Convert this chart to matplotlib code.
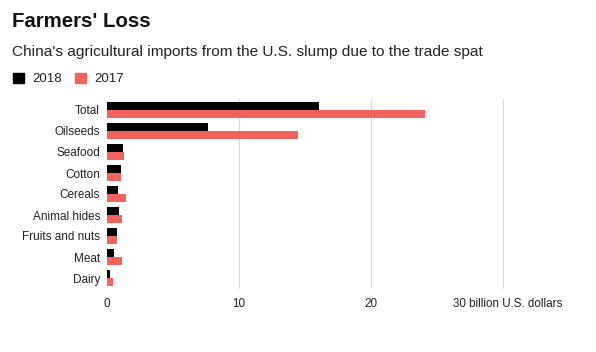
import matplotlib
matplotlib.use("Agg")
import matplotlib.pyplot as plt
import numpy as np
from matplotlib.patches import Rectangle
from matplotlib.transforms import ScaledTranslation

plt.rcParams['font.family'] = ['Liberation Sans', 'DejaVu Sans']

categories = ["Total", "Oilseeds", "Seafood", "Cotton", "Cereals",
              "Animal hides", "Fruits and nuts", "Meat", "Dairy"]
imports_2018 = [16.1, 7.65, 1.2, 1.05, 0.87, 0.88, 0.77, 0.5, 0.25]
imports_2017 = [24.1, 14.45, 1.32, 1.06, 1.47, 1.16, 0.79, 1.1, 0.42]
xticks = [0, 10, 20, 30]
xtick_labels = ["0", "10", "20", "30 billion U.S. dollars"]

black = "#000000"
red = "#f4625f"
grid = "#d9d9d9"
txt = "#222222"

fig = plt.figure(figsize=(5.96, 3.52), dpi=100)
ax = fig.add_axes([107 / 596, (352 - 288.5) / 352, 475 / 596, 189 / 352])

y = np.arange(len(categories))
h = 0.40
ax.barh(y - h / 2, imports_2018, height=h, color=black, zorder=3)
ax.barh(y + h / 2, imports_2017, height=h, color=red, zorder=3)

ax.set_xlim(0, 36)
ax.set_ylim(len(categories) - 0.5, -0.5)
ax.set_xticks(xticks)
ax.set_xticklabels(xtick_labels, fontsize=8.4, color=txt)
ax.set_yticks(y)
ax.set_yticklabels(categories, fontsize=8.5, color=txt)
ax.tick_params(length=0)
ax.tick_params(axis="y", pad=5)
ax.tick_params(axis="x", pad=7)
# long last label sits a little right of its gridline
last = ax.get_xticklabels()[-1]
last.set_transform(last.get_transform() + ScaledTranslation(5 / 100, 0, fig.dpi_scale_trans))
for v in xticks[1:]:
    ax.axvline(v, color=grid, lw=0.8, zorder=1)
for s in ax.spines.values():
    s.set_visible(False)

fig.text(12 / 596, 1 - 27 / 352, "Farmers' Loss", fontsize=14.7,
         fontweight="bold", color="#111111", va="baseline")
fig.text(12 / 596, 1 - 56 / 352,
         "China's agricultural imports from the U.S. slump due to the trade spat",
         fontsize=11.1, color=txt, va="baseline")

# legend
for x0, c, lab in [(13, black, "2018"), (75, red, "2017")]:
    fig.patches.append(Rectangle((x0 / 596, 1 - 83 / 352), 10.5 / 596, 10.5 / 352,
                                 transform=fig.transFigure, color=c))
    fig.text((x0 + 19) / 596, 1 - 78.5 / 352, lab, fontsize=9.5, color=txt,
             va="center")

fig.savefig("out.png", dpi=100, facecolor="white")
